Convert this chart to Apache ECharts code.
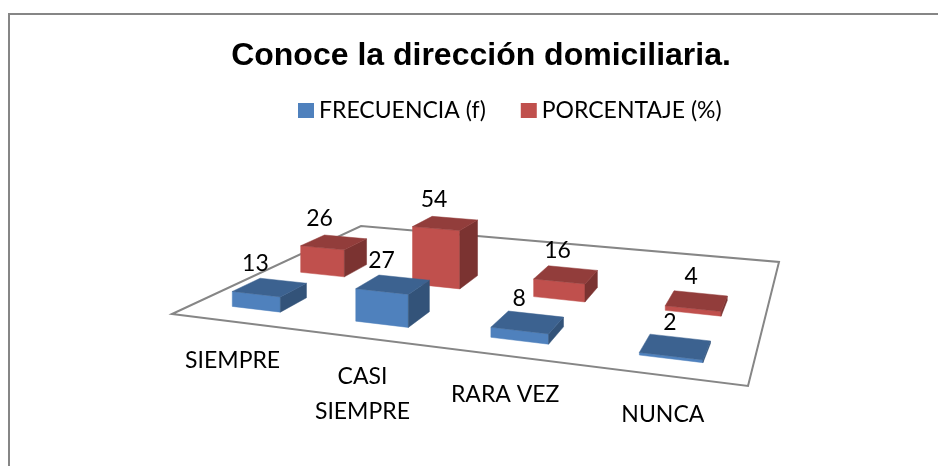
<!DOCTYPE html>
<html><head><meta charset="utf-8">
<style>html,body{margin:0;padding:0;background:#fff}#c{width:938px;height:466px}
#b{position:absolute;left:8px;top:13px;width:930px;height:453px;border-left:2px solid #868686;border-top:2px solid #868686;box-sizing:border-box}</style>
<script src="https://cdn.jsdelivr.net/npm/echarts@6/dist/echarts.min.js"></script>
</head><body><div id="b"></div><div id="c" style="position:absolute;left:0;top:0"></div>
<script>
const categories=['SIEMPRE','CASI\nSIEMPRE','RARA VEZ','NUNCA'];
const frecuencia=[13,27,8,2];
const porcentaje=[26,54,16,4];
const seriesNames=['FRECUENCIA (f)','PORCENTAJE (%)'];

// perspective of the floor: solve homography unit square -> screen
const P=[[172,314],[748,386],[779,262],[361,226]];
function solve(){
  const [p0,p1,p2,p3]=P;
  const dx1=p1[0]-p2[0],dx2=p3[0]-p2[0],sx=p0[0]-p1[0]+p2[0]-p3[0];
  const dy1=p1[1]-p2[1],dy2=p3[1]-p2[1],sy=p0[1]-p1[1]+p2[1]-p3[1];
  const d=dx1*dy2-dx2*dy1;
  const g=(sx*dy2-dx2*sy)/d,h=(dx1*sy-sx*dy1)/d;
  return {a:p1[0]-p0[0]+g*p1[0],b:p3[0]-p0[0]+h*p3[0],c:p0[0],d:p1[1]-p0[1]+g*p1[1],e:p3[1]-p0[1]+h*p3[1],f:p0[1],g,h};
}
const H=solve();
const ZK=1.18; // px per unit of value at w=1
function proj(u,v,z){
  const w=H.g*u+H.h*v+1;
  return [(H.a*u+H.b*v+H.c)/w,(H.d*u+H.e*v+H.f)/w-(z||0)/w*ZK];
}
const GX=100,GY=100,GW=400,GH=240,YMAX=60;
const BAR=0.4,V0=[0.10,0.43],VD=[0.125,0.135];
const shade=(c,k)=>'rgb('+[1,3,5].map(i=>Math.round(parseInt(c.substr(i,2),16)*k)).join(',')+')';
const FONT='23px Lato';

function barItem(sIdx,color){
  return function(params,api){
    const cat=api.value(0),val=api.value(1);
    const base=api.coord([cat,0]),top=api.coord([cat,val]);
    const band=api.size([1,0])[0];
    const uc=(base[0]-GX)/GW, ub=band/GW;
    const z=(base[1]-top[1])/GH*YMAX;
    const v0=V0[sIdx], v1=v0+VD[sIdx];
    const u0=uc-ub*BAR/2,u1=uc+ub*BAR/2;
    const fl=proj(u0,v0,0),fr=proj(u1,v0,0),br=proj(u1,v1,0);
    const tfl=proj(u0,v0,z),tfr=proj(u1,v0,z),tbr=proj(u1,v1,z),tbl=proj(u0,v1,z);
    const poly=(pts,fill)=>({type:'polygon',shape:{points:pts},style:{fill:fill,stroke:fill,lineWidth:0.5}});
    const c=[(tfl[0]+tbr[0])/2,(tfl[1]+tbr[1])/2];
    return {type:'group',children:[
      poly([fl,fr,tfr,tfl],color),
      poly([fr,br,tbr,tfr],shade(color,0.64)),
      poly([tfl,tfr,tbr,tbl],shade(color,0.76)),
      {type:'text',z2:50,style:{text:String(val),x:c[0]-15.5+12*uc,y:c[1]-24,align:'center',verticalAlign:'middle',font:FONT,fill:'#000'}}
    ]};
  };
}
function floorItem(params,api){
  if(params.dataIndex!==0) return null;
  return {type:'polygon',shape:{points:P},style:{fill:'#fff',stroke:'#868686',lineWidth:2}};
}
function labelItem(params,api){
  const base=api.coord([api.value(0),0]);
  const uc=(base[0]-GX)/GW;
  const p=proj(uc,0,0);
  const lines=categories[params.dataIndex].split('\n');
  return {type:'group',children:lines.map((t,i)=>({type:'text',style:{text:t,x:p[0],y:p[1]+39+i*35,align:'center',verticalAlign:'middle',font:FONT,fill:'#000'}}))};
}
const idx=categories.map((_,i)=>i);
const chart=echarts.init(document.getElementById('c'),null,{renderer:'canvas',backgroundColor:'transparent'});
chart.setOption({
  animation:false,
  title:{text:'Conoce la dirección domiciliaria.',left:476,top:35,textAlign:'center',textStyle:{fontFamily:'Liberation Sans',fontWeight:'bold',fontSize:32,color:'#000'}},
  legend:{data:seriesNames,left:293,top:94,icon:'rect',itemWidth:16,itemHeight:15,itemGap:35,textStyle:{fontFamily:'Lato',fontSize:23,color:'#000'}},
  grid:{left:GX,top:GY,width:GW,height:GH},
  xAxis:{type:'category',data:categories,show:false},
  yAxis:{type:'value',min:0,max:YMAX,show:false},
  series:[
    {type:'custom',name:'floor',silent:true,z:1,renderItem:floorItem,data:idx.map(i=>[i,0])},
    {type:'custom',name:'cats',silent:true,z:1,renderItem:labelItem,data:idx.map(i=>[i,0])},
    {type:'custom',name:seriesNames[1],z:2,itemStyle:{color:'#C0504D'},renderItem:barItem(1,'#C0504D'),data:porcentaje.map((v,i)=>[i,v])},
    {type:'custom',name:seriesNames[0],z:3,itemStyle:{color:'#4F81BD'},renderItem:barItem(0,'#4F81BD'),data:frecuencia.map((v,i)=>[i,v])}
  ]
});
</script></body></html>
